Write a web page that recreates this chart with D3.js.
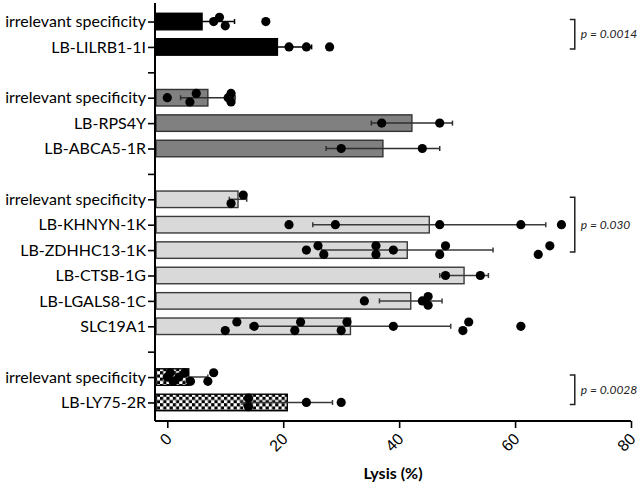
<!DOCTYPE html>
<html><head><meta charset="utf-8">
<script src="https://cdn.jsdelivr.net/npm/d3@7"></script>
<style>body{margin:0;background:#fff;} svg{display:block;font-family:Lato,"Open Sans",sans-serif;}</style>
</head><body>
<svg id="chart" width="638" height="487"></svg>
<script>
// ---- data ----
const categories = ["irrelevant specificity","LB-LILRB1-1I","","irrelevant specificity","LB-RPS4Y","LB-ABCA5-1R","","irrelevant specificity","LB-KHNYN-1K","LB-ZDHHC13-1K","LB-CTSB-1G","LB-LGALS8-1C","SLC19A1","","irrelevant specificity","LB-LY75-2R"];
const groupOfRow = [0,0,null,1,1,1,null,2,2,2,2,2,2,null,3,3];
const means = [6,19,null,7,42.2,37.2,null,12.2,45.2,41.4,51.2,42,31.6,null,3.7,20.7];
const sds   = [5.6,5.9,null,4.7,7,9.8,null,1.5,20.1,14.8,4.2,5.4,17.3,null,3.3,7.8];
const points = [
  [8,9,10,17],
  [21,24,28],
  [],
  [0,3.9,5,10.5,11,11],
  [37,47],
  [30,44],
  [],
  [11,13.1],
  [21,29,47,61,68],
  [24,26,27,36,36,39,47,48,64,66],
  [48,54],
  [34,44,45,45],
  [10,12,15,22,23,30,31,39,51,52,61],
  [],
  [0,0.5,1,2,3,4,7,8],
  [14,14,24,30]
];
const xTicks = [0,20,40,60,80];
const xTitle = "Lysis (%)";
const pLabels = ["p = 0.0014","p = 0.030","p = 0.0028"];
const pRows = [[0,1],[7,9],[14,15]];

// ---- layout ----
const svg = d3.select("#chart");
const axisX = 155, axisY = 421, topY = 3, rightX = 631;
const x = d3.scaleLinear().domain([-2.12, 80]).range([axisX, rightX]);
const y = d3.scalePoint().domain(d3.range(categories.length)).range([topY, axisY]).padding(0.73);
const step = y.step();
const barH = step * 0.65;

const fills = ["#000000", "#808080", "#d9d9d9", "url(#checker)"];
const strokes = ["#000000", "#333333", "#3a3a3a", "#000000"];
const errColors = ["#000000", "#2e2e2e", "#3a3a3a", "#3a3a3a"];

// checker pattern
const defs = svg.append("defs");
const pat = defs.append("pattern").attr("id","checker").attr("patternUnits","userSpaceOnUse")
  .attr("width",6.4).attr("height",6.4);
pat.append("rect").attr("width",6.4).attr("height",6.4).attr("fill","#fff");
pat.append("rect").attr("width",3.2).attr("height",3.2).attr("fill","#000");
pat.append("rect").attr("x",3.2).attr("y",3.2).attr("width",3.2).attr("height",3.2).attr("fill","#000");

const rows = d3.range(categories.length).filter(i => means[i] !== null);
const x0 = x(x.domain()[0]);

// bars
svg.append("g").selectAll("rect").data(rows).join("rect")
  .attr("x", x0 + 1)
  .attr("y", i => y(i) - barH/2)
  .attr("width", i => x(means[i]) - x0 - 1)
  .attr("height", barH)
  .attr("fill", i => fills[groupOfRow[i]])
  .attr("stroke", i => strokes[groupOfRow[i]])
  .attr("stroke-width", 1.4);

// error bars
const eb = svg.append("g").attr("stroke-width",1.5).attr("fill","none");
rows.forEach(i => {
  const lo = x(Math.max(x.domain()[0], means[i]-sds[i])), hi = x(means[i]+sds[i]), cy = y(i);
  const c = errColors[groupOfRow[i]];
  eb.append("line").attr("stroke",c).attr("x1",lo).attr("x2",hi).attr("y1",cy).attr("y2",cy);
  eb.append("line").attr("stroke",c).attr("x1",lo).attr("x2",lo).attr("y1",cy-2.5).attr("y2",cy+2.5);
  eb.append("line").attr("stroke",c).attr("x1",hi).attr("x2",hi).attr("y1",cy-2.5).attr("y2",cy+2.5);
});

// dots with simple cluster spreading
const r = 4.6, off = 4.3, thr = 13;
const lanes = [0, -off, off];
const dots = [];
points.forEach((vals, i) => {
  const sorted = vals.slice().sort((a,b)=>a-b);
  let clusters = [], cur = [];
  sorted.forEach(v => {
    if (cur.length && x(v) - x(cur[cur.length-1]) >= thr) { clusters.push(cur); cur = []; }
    cur.push(v);
  });
  if (cur.length) clusters.push(cur);
  clusters.forEach(c => {
    c.forEach((v, k) => {
      let dy;
      if (c.length === 1) dy = 0;
      else if (c.length === 2) dy = k === 0 ? off : -off;
      else dy = lanes[k % 3];
      dots.push({v, cy: y(i) + dy});
    });
  });
});
svg.append("g").selectAll("circle").data(dots).join("circle")
  .attr("cx", d => x(d.v)).attr("cy", d => d.cy).attr("r", r).attr("fill","#000");

// y axis
const yAxis = d3.axisLeft(y).tickSize(7).tickPadding(2).tickFormat(i => categories[i]);
const gy = svg.append("g").attr("transform", `translate(${axisX},0)`).call(yAxis);
gy.select(".domain").attr("d", `M0,${topY}V${axisY}`).attr("stroke","#000").attr("stroke-width",2);
gy.selectAll(".tick line").attr("stroke","#000").attr("stroke-width",1.6);
gy.selectAll(".tick text").attr("font-size",16).attr("fill","#000").style("font-family","Lato");

// x axis
const xAxis = d3.axisBottom(x).tickValues(xTicks).tickSize(7).tickFormat(d3.format("d"));
const gx = svg.append("g").attr("transform", `translate(0,${axisY})`).call(xAxis);
gx.select(".domain").attr("d", `M${axisX},0H${rightX}`).attr("stroke","#000").attr("stroke-width",2);
gx.selectAll(".tick line").attr("stroke","#000").attr("stroke-width",1.6);
gx.selectAll(".tick text").attr("font-size",16).attr("fill","#000")
  .attr("text-anchor","end").attr("dy","0.35em")
  .attr("transform","translate(1,15) rotate(-45)").attr("x",0).attr("y",0);

svg.append("text").attr("x", 393).attr("y", 479).attr("text-anchor","middle")
  .attr("font-size",16).attr("font-weight","bold").text(xTitle);

// p-value brackets
const bx = x(70.3);
pRows.forEach((pr, k) => {
  const y1 = y(pr[0]) - 2, y2 = y(pr[1]) + 2;
  svg.append("path").attr("d", `M${bx-5},${y1}H${bx}V${y2}H${bx-5}`)
    .attr("fill","none").attr("stroke","#222").attr("stroke-width",1.5);
  svg.append("text").attr("x", bx + 6).attr("y", (y1+y2)/2).attr("dy","0.35em")
    .attr("font-size",12).attr("font-style","italic").attr("fill","#222").text(pLabels[k]);
});
</script>
</body></html>
